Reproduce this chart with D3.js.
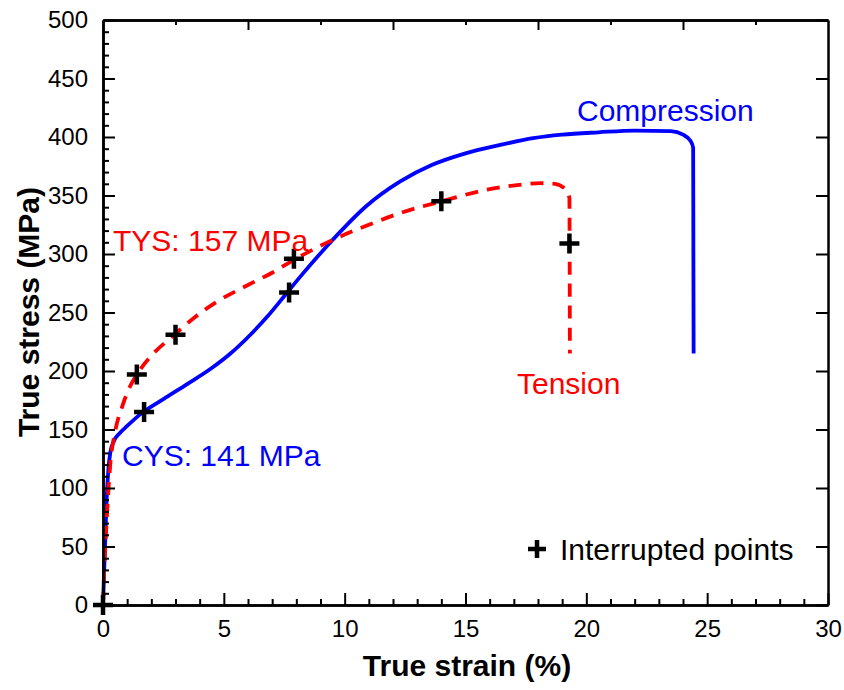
<!DOCTYPE html>
<html><head><meta charset="utf-8">
<script src="https://cdn.jsdelivr.net/npm/d3@7"></script>
<style>body{margin:0;background:#fff}svg{display:block}text{font-family:"Liberation Sans",Arial,sans-serif}</style>
</head><body>
<script>
const compStrain = [0,0.05,0.1,0.15,0.22,0.3,0.45,0.7,1.0,1.6,2.5,3.5,4.5,5.25,6.1,6.8,7.6,8.2,9.5,10.9,12.3,13.6,15,16.4,17.8,19,20.5,22,23.5,24.0,24.3,24.42,24.43,24.44];
const compStress = [0,30,60,90,115,130,140,147,153,164,176,189,202.5,214.5,231,246.5,266.5,281.5,312,341,362,376,386,393,399,402,404,405.5,405,402,397,391,300,215];
const tensStrain = [0,0.05,0.12,0.2,0.3,0.5,0.8,1.1,1.4,2.0,2.9,3.8,4.7,6.0,7.0,7.9,9.5,11.0,12.3,14,15.9,17.4,18.1,18.7,19.1,19.3,19.31,19.32];
const tensStress = [0,30,60,90,120,148,170,186,197,213,230,246,259,273.5,284,295,312,325,335,345,355,359.5,360.5,360,356,348,300,215];
const interruptedStrain = [0,1.4,1.7,3.0,7.7,7.9,14.0,19.3];
const interruptedStress = [0,197,165,231,267,296,345,309];
const xTicks = [0,5,10,15,20,25,30];
const yTicks = [0,50,100,150,200,250,300,350,400,450,500];

const W=844,H=690;
const svg=d3.select("body").append("svg").attr("width",W).attr("height",H);
const x=d3.scaleLinear().domain([0,30]).range([103,828]);
const y=d3.scaleLinear().domain([0,500]).range([605,20]);

// curves
const line=d3.line().x(d=>x(d[0])).y(d=>y(d[1])).curve(d3.curveMonotoneX);
svg.append("path").datum(compStrain.map((s,i)=>[s,compStress[i]])).attr("d",line)
  .attr("fill","none").attr("stroke","#0000ff").attr("stroke-width",3.8);
svg.append("path").datum(tensStrain.map((s,i)=>[s,tensStress[i]])).attr("d",line)
  .attr("fill","none").attr("stroke","#ff0000").attr("stroke-width",3.8).attr("stroke-dasharray","13,9");

// axes
const g=svg.append("g");
function axisStyle(sel){sel.selectAll("path").attr("stroke","#000").attr("stroke-width",2);sel.selectAll("line").attr("stroke","#000").attr("stroke-width",2);sel.selectAll("text").attr("font-size",24).attr("fill","#000");}
g.append("g").attr("transform","translate(0,605)").call(d3.axisBottom(x).tickValues(xTicks).tickSize(-12).tickPadding(15).tickSizeOuter(0)).call(axisStyle);
g.append("g").attr("transform","translate(0,605)").call(d3.axisBottom(x).tickValues(d3.range(0,31,1).filter(v=>v%5)).tickSize(-6).tickFormat("").tickSizeOuter(0)).call(axisStyle);
g.append("g").attr("transform","translate(103,0)").call(d3.axisLeft(y).tickValues(yTicks).tickSize(-12).tickPadding(15).tickSizeOuter(0)).call(axisStyle);
g.append("g").attr("transform","translate(103,0)").call(d3.axisLeft(y).tickValues(d3.range(0,501,10).filter(v=>v%50)).tickSize(-6).tickFormat("").tickSizeOuter(0)).call(axisStyle);
g.append("g").attr("transform","translate(0,20)").call(d3.axisTop(x).tickValues([6,12,18,24]).tickSize(-10).tickFormat("").tickSizeOuter(0)).call(axisStyle);
g.append("g").attr("transform","translate(0,20)").call(d3.axisTop(x).tickValues([3,9,15,21,27]).tickSize(-5).tickFormat("").tickSizeOuter(0)).call(axisStyle);
g.append("g").attr("transform","translate(828,0)").call(d3.axisRight(y).tickValues(yTicks).tickSize(-12).tickFormat("").tickSizeOuter(0)).call(axisStyle);
g.selectAll(".domain").attr("stroke-width",2.5);

// crosses
const cs=10;
svg.append("g").selectAll("path").data(interruptedStrain.map((s,i)=>[s,interruptedStress[i]])).join("path")
  .attr("d",d=>`M${x(d[0])-cs},${y(d[1])}H${x(d[0])+cs}M${x(d[0])},${y(d[1])-cs}V${y(d[1])+cs}`)
  .attr("stroke","#000").attr("stroke-width",4.5);

// legend
const lx=537,ly=549;
svg.append("path").attr("d",`M${lx-9},${ly}H${lx+9}M${lx},${ly-9}V${ly+9}`).attr("stroke","#000").attr("stroke-width",4.5);
svg.append("text").attr("x",560).attr("y",ly).attr("dy","0.35em").attr("font-size",30).text("Interrupted points");

// annotations
svg.append("text").attr("x",113).attr("y",240).attr("dy","0.35em").attr("font-size",30).attr("fill","#ff0000").text("TYS: 157 MPa");
svg.append("text").attr("x",122).attr("y",455).attr("dy","0.35em").attr("font-size",30).attr("fill","#0000ff").text("CYS: 141 MPa");
svg.append("text").attr("x",577).attr("y",110).attr("dy","0.35em").attr("font-size",30).attr("fill","#0000ff").text("Compression");
svg.append("text").attr("x",517).attr("y",383).attr("dy","0.35em").attr("font-size",30).attr("fill","#ff0000").text("Tension");

// axis titles
svg.append("text").attr("x",467).attr("y",665).attr("dy","0.35em").attr("text-anchor","middle").attr("font-size",30).attr("font-weight","bold").text("True strain (%)");
svg.append("text").attr("transform","translate(28,312) rotate(-90)").attr("dy","0.35em").attr("text-anchor","middle").attr("font-size",30).attr("font-weight","bold").text("True stress (MPa)");
</script>
</body></html>
